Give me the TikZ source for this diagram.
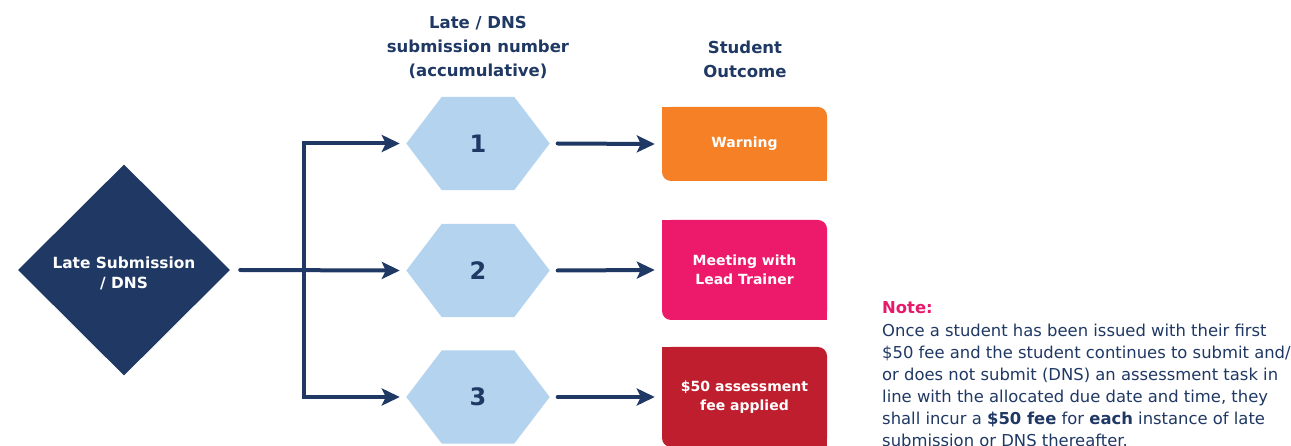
\documentclass[tikz,border=0pt]{standalone}
\usepackage{fontspec}
\setmainfont{DejaVu Sans}
\usetikzlibrary{arrows.meta,shapes.geometric,backgrounds}
\definecolor{navy}{HTML}{1F3864}
\definecolor{hexblue}{HTML}{B4D3EF}
\definecolor{warnorange}{HTML}{F58025}
\definecolor{meetpink}{HTML}{ED1A6C}
\definecolor{feered}{HTML}{BE1E2D}
\definecolor{notepink}{HTML}{E8196B}
\tikzset{
  conn/.style={draw=navy, line width=4pt, line cap=round, -{Stealth[length=18pt,width=17pt,inset=4pt]}},
  hexnode/.style={rectangle, minimum width=143pt, minimum height=93pt, inner sep=0pt, text=navy, font=\bfseries\fontsize{24}{28}\selectfont},
  outbox/.style={rectangle, rounded corners=9pt, minimum width=165pt, inner sep=0pt, text=white, align=center, font=\bfseries\fontsize{14}{19}\selectfont},
  hdr/.style={align=center, text=navy, font=\bfseries\fontsize{16.5}{24}\selectfont},
}
\begin{document}
\begin{tikzpicture}[x=1pt,y=-1pt]
\useasboundingbox (0,0) rectangle (1291,446);
% start diamond
\node[diamond, fill=navy, minimum width=212pt, minimum height=211pt, inner sep=0pt] (d) at (124,270) {};
\node[text=white, align=center, inner sep=0pt, font=\bfseries\fontsize{15.4}{20}\selectfont] (dt) at (124,273) {Late Submission\\/ DNS};
% headers
\node[hdr] (hdr1) at (478,47.5) {Late / DNS\\submission number\\(accumulative)};
\node[hdr] (hdr2) at (745,59) {Student\\Outcome};
% hexagons
\node[hexnode] (h1) at (478,143.5) {1};
\node[hexnode] (h2) at (478,270.5) {2};
\node[hexnode] (h3) at (478,397) {3};
% outcome boxes
\node[outbox, fill=warnorange, minimum height=74pt] (o1) at (744.5,144) {Warning};
\node[outbox, fill=meetpink, minimum height=100pt] (o2) at (744.5,270) {Meeting with\\Lead Trainer};
\node[outbox, fill=feered, minimum height=100pt] (o3) at (744.5,397) {\$50 assessment\\fee applied};
\begin{scope}[on background layer]
  \foreach \h in {h1,h2,h3}{
    \fill[hexblue] (\h.west) -- ([xshift=35.5pt]\h.north west) -- ([xshift=-35.5pt]\h.north east) -- (\h.east) -- ([xshift=-35.5pt]\h.south east) -- ([xshift=35.5pt]\h.south west) -- cycle;
  }
  \fill[warnorange] (o1.north west) rectangle ([xshift=12pt,yshift=-12pt]o1.north west);
  \fill[warnorange] (o1.south east) rectangle ([xshift=-12pt,yshift=12pt]o1.south east);
  \fill[meetpink] (o2.north west) rectangle ([xshift=12pt,yshift=-12pt]o2.north west);
  \fill[meetpink] (o2.south east) rectangle ([xshift=-12pt,yshift=12pt]o2.south east);
  \fill[feered] (o3.north west) rectangle ([xshift=12pt,yshift=-12pt]o3.north west);
  \fill[feered] (o3.south east) rectangle ([xshift=-12pt,yshift=12pt]o3.south east);
\end{scope}
% connectors
\coordinate (j) at (304,270);
\draw[conn] ([xshift=10pt]d.east) -- ([xshift=-6.5pt]h2.west);
\draw[conn] (j) |- ([xshift=-6.5pt]h1.west);
\draw[conn] (j) |- ([xshift=-6.5pt]h3.west);
\draw[conn] ([xshift=8pt]h1.east) -- ([xshift=-7pt]o1.west);
\draw[conn] ([xshift=8pt]h2.east) -- ([xshift=-7pt]o2.west);
\draw[conn] ([xshift=8pt]h3.east) -- ([xshift=-7pt]o3.west);
% note
\node[anchor=base west, inner sep=0pt, text=notepink, font=\bfseries\fontsize{16.4}{22}\selectfont] (nh) at (882,314) {Note:};
\node[anchor=north west, inner sep=0pt, align=left, text=navy, font=\fontsize{16.4}{22}\selectfont] (nb) at (882,323.5) {Once a student has been issued with their first\\\$50 fee and the student continues to submit and/\\or does not submit (DNS) an assessment task in\\line with the allocated due date and time, they\\shall incur a \textbf{\$50 fee} for \textbf{each} instance of late\\submission or DNS thereafter.};
\end{tikzpicture}
\end{document}
